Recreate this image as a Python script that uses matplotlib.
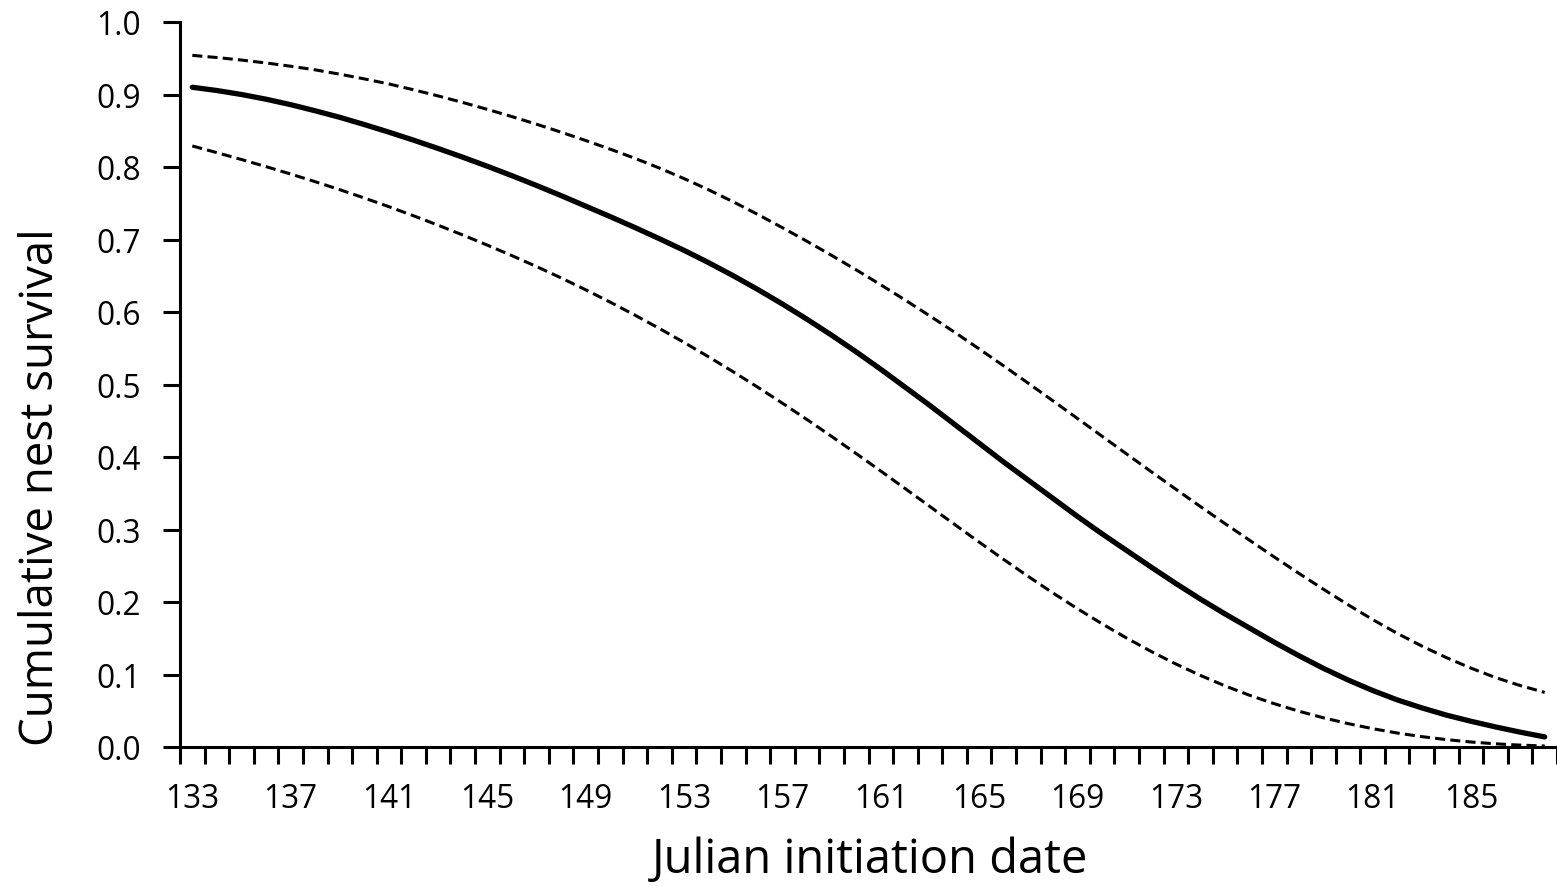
import matplotlib
matplotlib.use("Agg")
import matplotlib.pyplot as plt

plt.rcParams['font.family'] = ['Open Sans', 'DejaVu Sans']

# ---- data ----
days = list(range(133, 189))
survival = [0.910, 0.9055, 0.900, 0.8935, 0.886, 0.8775, 0.8685, 0.8585, 0.848, 0.837,
            0.8255, 0.8135, 0.801, 0.788, 0.7745, 0.7605, 0.746, 0.7315, 0.7165, 0.701,
            0.685, 0.668, 0.650, 0.631, 0.611, 0.590, 0.568, 0.545, 0.521, 0.496,
            0.471, 0.445, 0.419, 0.393, 0.368, 0.343, 0.318, 0.294, 0.271, 0.248,
            0.2255, 0.204, 0.1835, 0.164, 0.1445, 0.126, 0.1085, 0.0925, 0.078, 0.065,
            0.054, 0.044, 0.0355, 0.0277, 0.0205, 0.0139]
upper_ci = [0.954, 0.951, 0.9475, 0.9435, 0.939, 0.934, 0.928, 0.9215, 0.9145, 0.9065,
            0.898, 0.889, 0.8795, 0.8695, 0.859, 0.848, 0.8365, 0.8245, 0.812, 0.7985,
            0.784, 0.7685, 0.752, 0.7345, 0.7163, 0.6975, 0.6781, 0.6581, 0.6375, 0.6163,
            0.5945, 0.5721, 0.5491, 0.5256, 0.5017, 0.4775, 0.4531, 0.4286, 0.4041, 0.3797,
            0.3555, 0.3316, 0.3081, 0.2851, 0.2621, 0.2396, 0.2176, 0.1963, 0.1758, 0.1568,
            0.1393, 0.1233, 0.1088, 0.0958, 0.0848, 0.0753]
lower_ci = [0.829, 0.8198, 0.8103, 0.8005, 0.7903, 0.7797, 0.7687, 0.7572, 0.7452, 0.7327,
            0.7197, 0.7062, 0.6922, 0.6777, 0.6627, 0.6470, 0.6306, 0.6135, 0.5957, 0.5772,
            0.5580, 0.5381, 0.5175, 0.4962, 0.4742, 0.4516, 0.4284, 0.4047, 0.3806, 0.3562,
            0.3316, 0.3070, 0.2826, 0.2586, 0.2352, 0.2125, 0.1907, 0.1699, 0.1502, 0.1317,
            0.1145, 0.0987, 0.0843, 0.0713, 0.0597, 0.0494, 0.0403, 0.0323, 0.0253, 0.0193,
            0.0143, 0.0102, 0.0069, 0.0044, 0.0026, 0.0014]
x_tick_labels = [str(d) for d in range(133, 189, 4)]
y_ticks = [i / 10 for i in range(11)]

W, H, DPI = 1557, 887, 100
fig = plt.figure(figsize=(W / DPI, H / DPI), dpi=DPI)
L, R, T, B = 180, 1557, 23, 748
ax = fig.add_axes([L / W, (H - B) / H, (R - L) / W, (B - T) / H])

ax.plot(days, upper_ci, color='black', lw=2.2, linestyle=(0, (3.3, 1.7)),
        dash_capstyle='butt', clip_on=False)
ax.plot(days, lower_ci, color='black', lw=2.2, linestyle=(0, (3.3, 1.7)),
        dash_capstyle='butt', clip_on=False)
ax.plot(days, survival, color='black', lw=3.8, solid_capstyle='round',
        solid_joinstyle='round', clip_on=False)

ax.set_xlim(days[0] - 0.5, days[-1] + 0.5)
ax.set_ylim(0, 1.0)

for s in ['top', 'right']:
    ax.spines[s].set_visible(False)
for s in ['left', 'bottom']:
    ax.spines[s].set_linewidth(2.2)

# helper to fit font size
renderer = fig.canvas.get_renderer()
def fit_size(text, target_px, base=20):
    t = fig.text(0, 0, text, fontsize=base)
    w = t.get_window_extent(renderer).width
    t.remove()
    return base * target_px / w

fs_tick = fit_size('133', 54)

boundaries = [d - 0.5 for d in days] + [days[-1] + 0.5]
ax.set_xticks(boundaries)
ax.set_xticklabels([''] * len(boundaries))
ax.set_xticks([int(s) for s in x_tick_labels], minor=True)
ax.set_xticklabels(x_tick_labels, minor=True, fontsize=fs_tick)
ax.tick_params(axis='x', which='major', direction='out', length=12, width=2.2)
ax.tick_params(axis='x', which='minor', length=0, pad=25)

ax.set_yticks(y_ticks)
ax.set_yticklabels([f'{v:.1f}' for v in y_ticks], fontsize=fs_tick)
ax.tick_params(axis='y', direction='out', length=12, width=2.2, pad=16)

fs_x = fit_size('Julian initiation date', 436)
fs_y = fit_size('Cumulative nest survival', 517)
fig.text(870 / W, 1 - 873 / H, 'Julian initiation date', fontsize=fs_x,
         ha='center', va='baseline')
fig.text(53 / W, 1 - 487 / H, 'Cumulative nest survival', fontsize=fs_y,
         ha='center', va='baseline', rotation=90, rotation_mode='anchor')

fig.savefig('out.png', dpi=DPI, facecolor='white')
